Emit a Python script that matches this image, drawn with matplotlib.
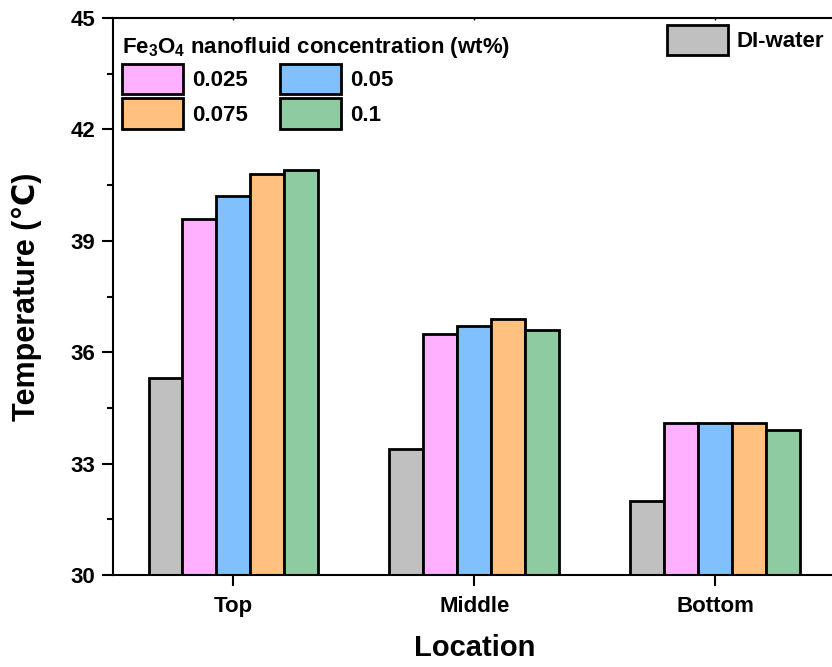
import numpy as np
import matplotlib.pyplot as plt
from matplotlib.patches import Patch

plt.rcParams['font.family'] = ['Liberation Sans', 'DejaVu Sans']
plt.rcParams['font.weight'] = 'bold'
plt.rcParams['mathtext.fontset'] = 'custom'
plt.rcParams['mathtext.rm'] = 'Liberation Sans:bold'
plt.rcParams['mathtext.bf'] = 'Liberation Sans:bold'
plt.rcParams['mathtext.default'] = 'bf'

# Temperature at each location (deg C)
locations = ['Top', 'Middle', 'Bottom']
di_water = [35.3, 33.4, 32.0]
conc_labels = ['0.025', '0.05', '0.075', '0.1']
conc_values = [
    [39.6, 36.5, 34.1],  # 0.025 wt%
    [40.2, 36.7, 34.1],  # 0.05 wt%
    [40.8, 36.9, 34.1],  # 0.075 wt%
    [40.9, 36.6, 33.9],  # 0.1 wt%
]

colors = ['#FFB0FF', '#80C0FF', '#FFC080', '#8ECBA0']
gray = '#C0C0C0'

fig = plt.figure(figsize=(8.32, 6.67), dpi=100)
ax = fig.add_axes([113 / 832, 92 / 667, 722.5 / 832, 557 / 667])

x = np.arange(1, len(locations) + 1)
w = 0.141
lw = 2.0

ax.bar(x - 2 * w, di_water, w, color=gray, edgecolor='black', linewidth=lw, zorder=2)
for i, (vals, c) in enumerate(zip(conc_values, colors)):
    ax.bar(x + (i - 1) * w, vals, w, color=c, edgecolor='black', linewidth=lw, zorder=2)

ax.set_xlim(0.5, 3.5)
ax.set_ylim(30, 45)
ax.set_yticks(np.arange(30, 46, 3))
ax.set_yticks(np.arange(31.5, 45, 3), minor=True)
ax.set_xticks(x)
ax.set_xticklabels(locations)

for s in ax.spines.values():
    s.set_linewidth(1.5)
ax.tick_params(axis='both', which='major', labelsize=16, length=8, width=1.5, direction='out')
ax.tick_params(axis='y', which='major', pad=5)
ax.tick_params(axis='y', which='minor', length=4.5, width=1.5, direction='out')
ax.tick_params(axis='x', which='major', pad=7)
# tiny marks on the top spine at each location
top = ax.secondary_xaxis('top')
top.set_xticks(x)
top.tick_params(length=1.5, width=1, direction='in', labeltop=False)
top.spines['top'].set_visible(False)
for t in ax.get_xticklabels() + ax.get_yticklabels():
    t.set_fontweight('bold')

ax.set_xlabel('Location', fontsize=21, fontweight='bold', labelpad=12)
ax.set_ylabel('Temperature (\u2103)', fontsize=22, fontweight='bold', labelpad=20)

handles = [Patch(facecolor=c, edgecolor='black', linewidth=2) for c in colors]
order = [0, 2, 1, 3]
leg1 = ax.legend([handles[i] for i in order], [conc_labels[i] for i in order],
                 ncol=2, loc='upper left', bbox_to_anchor=(-0.011, 1.0),
                 title='Fe$_3$O$_4$ nanofluid concentration (wt%)',
                 title_fontproperties={'size': 16, 'weight': 'bold'},
                 prop={'size': 16, 'weight': 'bold'}, frameon=False,
                 handlelength=2.75, handleheight=1.75, handletextpad=0.4,
                 labelspacing=0.18, columnspacing=1.45, borderpad=0.55,
                 borderaxespad=0.2, alignment='left')
ax.add_artist(leg1)

ax.legend([Patch(facecolor=gray, edgecolor='black', linewidth=2)], ['DI-water'],
          loc='upper right', bbox_to_anchor=(0.993, 1.0),
          prop={'size': 16, 'weight': 'bold'}, frameon=False,
          handlelength=2.75, handleheight=1.75, handletextpad=0.35,
          borderpad=0.2, borderaxespad=0.1)

fig.savefig('out.png', dpi=100)
